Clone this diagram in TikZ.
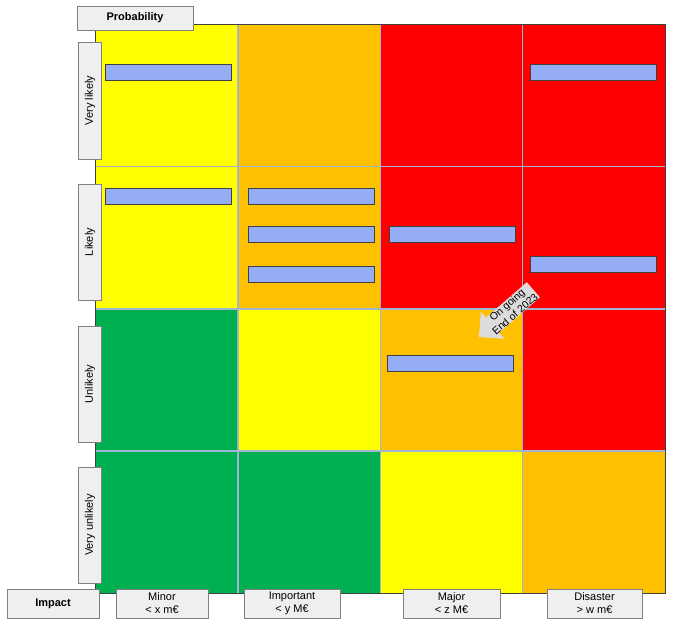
\documentclass[tikz,border=0pt]{standalone}
\usepackage{fontspec}
\setmainfont{Liberation Sans}
\definecolor{cY}{HTML}{FFFF00}
\definecolor{cO}{HTML}{FFC000}
\definecolor{cR}{HTML}{FF0000}
\definecolor{cG}{HTML}{00B050}
\definecolor{barblue}{HTML}{95ADF5}
\definecolor{barborder}{HTML}{404040}
\definecolor{gridline}{HTML}{A3B3D3}
\definecolor{lblfill}{HTML}{EFEFEF}
\definecolor{lbldraw}{HTML}{808080}
\definecolor{arrowgray}{HTML}{DCDCDC}
\begin{document}
\begin{tikzpicture}[x=1pt,y=-1pt,
  cell/.style={minimum width=142.4pt, minimum height=142.125pt, inner sep=0pt, outer sep=0pt, anchor=north west},
  bar/.style={draw=barborder, fill=barblue, line width=0.8pt, minimum width=126pt, minimum height=16pt, inner sep=0pt, anchor=north west},
  lbl/.style={draw=lbldraw, fill=lblfill, line width=0.8pt, inner sep=0pt, font=\fontsize{11}{13}\selectfont, align=center},
  gline/.style={draw=gridline, line width=1.5pt}]
\useasboundingbox (0,0) rectangle (675,622);
% cells
\foreach \c/\r/\col in {0/0/cY,1/0/cO,2/0/cR,3/0/cR,
                        0/1/cY,1/1/cO,2/1/cR,3/1/cR,
                        0/2/cG,1/2/cY,2/2/cO,3/2/cR,
                        0/3/cG,1/3/cG,2/3/cY,3/3/cO}
  \node[cell, fill=\col] (cell-\r-\c) at ({95.5+142.4*\c},{24.5+142.125*\r}) {};
% grid lines
\foreach \c in {1,2,3}
  \draw[gline] (cell-0-\c.north west) -- (cell-3-\c.south west);
\foreach \r in {1,2,3}
  \draw[gline] (cell-\r-0.north west) -- (cell-\r-3.north east);
\draw[draw=black!75, line width=1pt] (cell-0-0.north west) rectangle (cell-3-3.south east);
% bars
\node[bar] (b1) at (105,64) {};
\node[bar] (b2) at (530,64) {};
\node[bar] (b3) at (105,188) {};
\node[bar] (b4) at (248,188) {};
\node[bar] (b5) at (248,226) {};
\node[bar] (b6) at (248,266) {};
\node[bar] (b7) at (389,226) {};
\node[bar] (b8) at (530,256) {};
\node[bar] (b9) at (387,355) {};
% block arrow (pointing down-left)
\begin{scope}[shift={(479,337)}, x=1pt, y=1pt, rotate=41]
  \fill[arrowgray] (0,0) -- (18,18) -- (18,10) -- (72,10) -- (72,-10) -- (18,-10) -- (18,-18) -- cycle;
\end{scope}
\node[rotate=41, align=center, inner sep=0pt, font=\fontsize{10.5}{12}\selectfont] (ongoing) at (511,309.5) {On going\\End of 2023};
% labels
\node[lbl, minimum width=116pt, minimum height=24pt, font=\fontsize{11}{13}\selectfont\bfseries] (prob) at (135,18) {Probability};
\node[lbl, minimum width=117pt, minimum height=23pt, rotate=90] (pvl) at (90,100.5) {Very likely};
\node[lbl, minimum width=116pt, minimum height=23pt, rotate=90] (pl) at (90,242) {Likely};
\node[lbl, minimum width=116pt, minimum height=23pt, rotate=90] (pu) at (90,384) {Unlikely};
\node[lbl, minimum width=116pt, minimum height=23pt, rotate=90] (pvu) at (90,525) {Very unlikely};
\node[lbl, minimum width=92pt, minimum height=29pt, font=\fontsize{11}{13}\selectfont\bfseries] (imp) at (53,603.5) {Impact};
\node[lbl, minimum width=92pt, minimum height=29pt] (i1) at (162,603.5) {Minor\\< x m€};
\node[lbl, minimum width=96pt, minimum height=29pt] (i2) at (292,603.5) {Important\\< y M€};
\node[lbl, minimum width=97pt, minimum height=29pt] (i3) at (451.5,603.5) {Major\\< z M€};
\node[lbl, minimum width=95pt, minimum height=29pt] (i4) at (594.5,603.5) {Disaster\\> w m€};
\end{tikzpicture}
\end{document}
